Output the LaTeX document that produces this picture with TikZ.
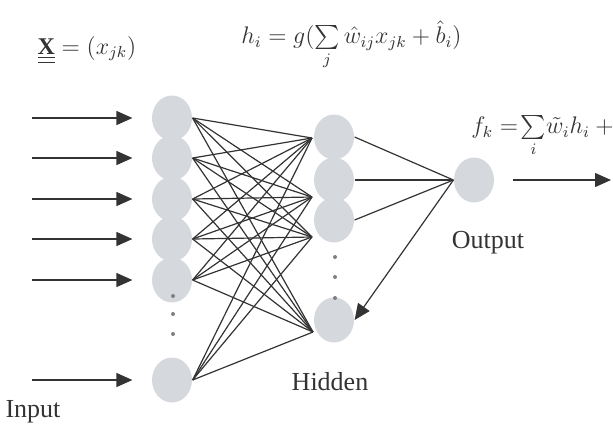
\documentclass[tikz,border=0pt]{standalone}
\usepackage{amsmath}
\usepackage{fontspec}
\setmainfont{Liberation Serif}
\usetikzlibrary{arrows.meta,shapes.geometric}
\definecolor{cellgray}{HTML}{D5D9DE}

\begin{document}
\begin{tikzpicture}[x=.5pt,y=-.5pt,line width=.6pt,font=\fontsize{13}{15}\selectfont,text=black!80,
  neuron/.style={ellipse,fill=cellgray,minimum width=20pt,minimum height=22.5pt,inner sep=0pt},
  link/.style={draw=black!80},
  arr/.style={draw=black!80,-{Triangle[length=8pt,width=7pt]}},
  dotmark/.style={circle,fill=black!50,inner sep=0pt,minimum size=2pt},
  eq/.style={font=\fontsize{12}{14}\selectfont}]
\useasboundingbox (0,0) rectangle (613,430);
\foreach \n/\y in {1/118,2/158,3/199,4/239,5/280,6/380} {\node[neuron] (i\n) at (172,\y) {};\coordinate (x\n) at (32,\y);}
\foreach \n/\y in {1/137,2/180,3/220,4/320} \node[neuron] (h\n) at (334,\y) {};
\node[neuron] (o) at (474,180) {};
\coordinate (c1) at (312,138);\coordinate (c2) at (312,197);\coordinate (c3) at (312,237);\coordinate (c4) at (313,332);
\coordinate (y) at (611,180);
\foreach \n in {1,...,6} \draw[arr,shorten >=9.5pt] (x\n) -- (i\n.west);
\foreach \a in {1,...,6} \foreach \b in {1,...,4} \draw[link] (i\a.east) -- (c\b);
\foreach \b in {1,2,3} \draw[link] (h\b.east) -- (o.west);
\draw[arr] (o.west) -- (h4.east);
\draw[arr,shorten <=9pt] (o.east) -- (y);
\foreach \y in {296,314,334} \node[dotmark] at (173,\y) {};
\foreach \y in {257,277,298} \node[dotmark] at (335,\y) {};
\node (lin) at (33,412) {Input};\node (lhid) at (330,382) {Hidden};\node (lout) at (488,243) {Output};
\node[eq] (eqx) at (87,50) {$\underline{\underline{\mathbf{X}}}=(x_{jk})$};
\node[eq,anchor=west] (eqh) at (234,45) {$h_i=g(\sum\limits_j\hat w_{ij}x_{jk}+\hat b_i)$};
\node[eq,anchor=west] (eqf) at (464,134) {$f_k=\!\sum\limits_i\!\tilde w_ih_i+\tilde b$};
\end{tikzpicture}
\end{document}
